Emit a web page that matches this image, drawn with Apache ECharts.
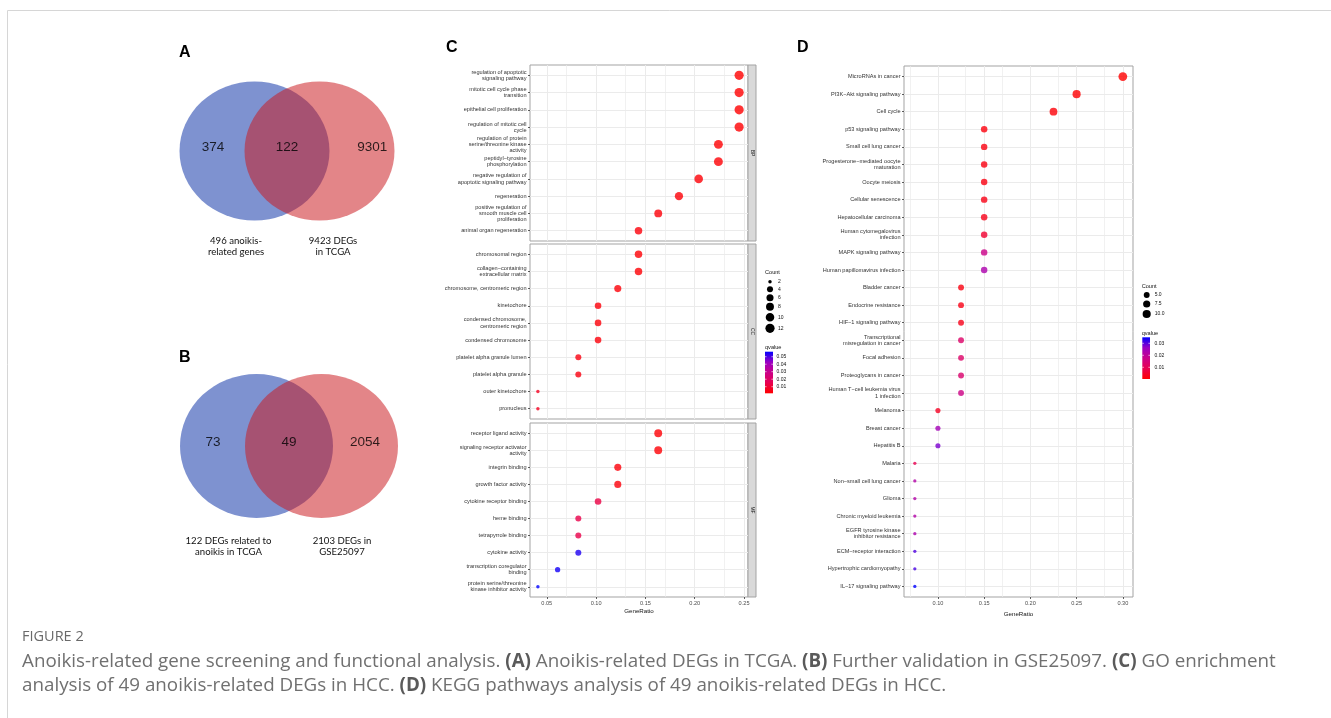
<!DOCTYPE html>
<html><head><meta charset="utf-8">
<script src="https://cdn.jsdelivr.net/npm/echarts@6/dist/echarts.min.js"></script>
<style>html,body{margin:0;padding:0;background:#fff}#c{width:1331px;height:718px}</style>
</head><body><div id="c"></div>
<script>
// ---------- DATA ----------
const vennA_counts = [374, 122, 9301];
const vennA_sets = ['496 anoikis-\nrelated genes', '9423 DEGs\nin TCGA'];
const vennB_counts = [73, 49, 2054];
const vennB_sets = ['122 DEGs related to\nanoikis in TCGA', '2103 DEGs in\nGSE25097'];

const bpTerms = ['regulation of apoptotic\nsignaling pathway','mitotic cell cycle phase\ntransition','epithelial cell proliferation','regulation of mitotic cell\ncycle','regulation of protein\nserine/threonine kinase\nactivity','peptidyl\u2212tyrosine\nphosphorylation','negative regulation of\napoptotic signaling pathway','regeneration','positive regulation of\nsmooth muscle cell\nproliferation','animal organ regeneration'];
const bpCount = [12,12,12,12,11,11,10,9,8,7];
const bpRatio = [0.245,0.245,0.245,0.245,0.224,0.224,0.204,0.184,0.163,0.143];
const bpQ = [0.0012,0.0013,0.0014,0.0015,0.0018,0.002,0.0022,0.0025,0.0028,0.003];

const ccTerms = ['chromosomal region','collagen\u2212containing\nextracellular matrix','chromosome, centromeric region','kinetochore','condensed chromosome,\ncentromeric region','condensed chromosome','platelet alpha granule lumen','platelet alpha granule','outer kinetochore','pronucleus'];
const ccCount = [7,7,6,5,5,5,4,4,2,2];
const ccRatio = [0.143,0.143,0.122,0.102,0.102,0.102,0.082,0.082,0.041,0.041];
const ccQ = [0.002,0.002,0.0025,0.003,0.003,0.003,0.004,0.004,0.007,0.007];

const mfTerms = ['receptor ligand activity','signaling receptor activator\nactivity','integrin binding','growth factor activity','cytokine receptor binding','heme binding','tetrapyrrole binding','cytokine activity','transcription coregulator\nbinding','protein serine/threonine\nkinase inhibitor activity'];
const mfCount = [8,8,6,6,5,4,4,4,3,2];
const mfRatio = [0.163,0.163,0.122,0.122,0.102,0.082,0.082,0.082,0.061,0.041];
const mfQ = [0.002,0.002,0.003,0.003,0.013,0.014,0.014,0.054,0.055,0.0567];

const keggTerms = ['MicroRNAs in cancer','PI3K\u2212Akt signaling pathway','Cell cycle','p53 signaling pathway','Small cell lung cancer','Progesterone\u2212mediated oocyte\nmaturation','Oocyte meiosis','Cellular senescence','Hepatocellular carcinoma','Human cytomegalovirus\ninfection','MAPK signaling pathway','Human papillomavirus infection','Bladder cancer','Endocrine resistance','HIF\u22121 signaling pathway','Transcriptional\nmisregulation in cancer','Focal adhesion','Proteoglycans in cancer','Human T\u2212cell leukemia virus\n1 infection','Melanoma','Breast cancer','Hepatitis B','Malaria','Non\u2212small cell lung cancer','Glioma','Chronic myeloid leukemia','EGFR tyrosine kinase\ninhibitor resistance','ECM\u2212receptor interaction','Hypertrophic cardiomyopathy','IL\u221217 signaling pathway'];
const keggCount = [12,10,9,6,6,6,6,6,6,6,6,6,5,5,5,5,5,5,5,4,4,4,3,3,3,3,3,3,3,3];
const keggRatio = [0.300,0.250,0.225,0.150,0.150,0.150,0.150,0.150,0.150,0.150,0.150,0.150,0.125,0.125,0.125,0.125,0.125,0.125,0.125,0.100,0.100,0.100,0.075,0.075,0.075,0.075,0.075,0.075,0.075,0.075];
const keggQ = [0.0003,0.0005,0.001,0.0015,0.002,0.002,0.002,0.0025,0.003,0.0055,0.0175,0.023,0.002,0.0025,0.003,0.0125,0.0125,0.013,0.017,0.004,0.0245,0.028,0.009,0.022,0.022,0.022,0.023,0.0305,0.031,0.035];

const cTicks = [0.05,0.10,0.15,0.20,0.25];
const cMinor = [0.075,0.125,0.175,0.225];
const dTicks = [0.10,0.15,0.20,0.25,0.30];
const dMinor = [0.075,0.125,0.175,0.225,0.275];
const cCountBreaks = [2,4,6,8,10,12];
const dCountBreaks = [5,7.5,10];
const cQBreaks = [0.05,0.04,0.03,0.02,0.01];
const dQBreaks = [0.03,0.02,0.01];
const cQRange = [0.0012,0.0567];
const dQRange = [0.00025,0.035];

// ---------- STYLE / LAYOUT ----------
const F = '"Liberation Sans", Arial, sans-serif';
const GRAD = ['#FF0000','#E80050','#CA0089','#9A00C3','#0000FF'];
const sizeC = c => 1.15 * (3 + 5 * Math.sqrt((c - 2) / 10));
const sizeD = c => 1.1 * (3 + 5 * Math.sqrt((c - 3) / 9));
const GRIDC = '#ebebeb';
const BORDER = '#a3a3a3';

const facets = [
  {terms: bpTerms, count: bpCount, ratio: bpRatio, q: bpQ, top: 65, h: 176, strip: 'BP'},
  {terms: ccTerms, count: ccCount, ratio: ccRatio, q: ccQ, top: 244, h: 175, strip: 'CC'},
  {terms: mfTerms, count: mfCount, ratio: mfRatio, q: mfQ, top: 423, h: 174, strip: 'MF'}
];

const grid = [
  {left: 157, top: 41, width: 260, height: 220, show: false},
  {left: 159, top: 336, width: 260, height: 220, show: false}
];
const xAxis = [], yAxis = [], series = [];
const hiddenAxis = {type: 'value', min: -1, max: 1, show: false};
xAxis.push(Object.assign({gridIndex: 0}, hiddenAxis), Object.assign({gridIndex: 1}, hiddenAxis));
yAxis.push(Object.assign({gridIndex: 0}, hiddenAxis), Object.assign({gridIndex: 1}, hiddenAxis));

function venn(gi, counts, sets, numX, lblOff, lblDist, size) {
  const blue = '#7e92d0', red = 'rgba(202,25,31,0.53)';
  const lab = {show: true, position: 'bottom', distance: lblDist, color: '#111', fontFamily: 'Lato, "Open Sans", sans-serif', fontSize: 9.6, lineHeight: 11, align: 'center'};
  series.push({
    type: 'scatter', xAxisIndex: gi, yAxisIndex: gi, silent: true, clip: false, z: 2,
    symbol: 'circle', symbolSize: size,
    data: [
      {value: [-0.25, 0], itemStyle: {color: blue, opacity: 1}, label: Object.assign({offset: [lblOff[0], 0], formatter: sets[0]}, lab)},
      {value: [0.25, 0], itemStyle: {color: red, opacity: 1}, label: Object.assign({offset: [lblOff[1], 0], formatter: sets[1]}, lab)}
    ]
  });
  series.push({
    type: 'scatter', xAxisIndex: gi, yAxisIndex: gi, silent: true, clip: false, z: 3,
    symbolSize: 0,
    data: counts.map((c, i) => ({value: [numX[i], 0.03], name: String(c)})),
    label: {show: true, position: 'inside', formatter: p => p.name, color: '#000', fontFamily: F, fontSize: 13.5}
  });
}
venn(0, vennA_counts, vennA_sets, [-0.57, 0, 0.655], [-18.5, 13.5], 15, [150, 139]);
venn(1, vennB_counts, vennB_sets, [-0.585, 0, 0.585], [-28, 20.5], 17, [153, 144]);

const dotSeriesC = [];
function addPanel(gi, terms, ratio, count, q, top, h, left, width, xr, ticks, minor, showX, sizeFn) {
  grid.push({left: left, top: top, width: width, height: h, show: true, borderColor: BORDER, borderWidth: 1, backgroundColor: '#fff'});
  const idx = terms.map((t, i) => i);
  xAxis.push({
    gridIndex: gi, type: 'value', min: xr[0], max: xr[1], position: 'bottom',
    axisLine: {show: false, onZero: false},
    axisTick: {show: showX, length: 2, customValues: ticks, lineStyle: {color: '#333', width: 0.8}},
    axisLabel: {show: showX, customValues: ticks, formatter: v => v.toFixed(2), fontSize: 5.6, color: '#4d4d4d', fontFamily: F, margin: 3},
    splitLine: {show: true, lineStyle: {color: GRIDC, width: 1}},
    name: showX ? 'GeneRatio' : '', nameLocation: 'middle', nameGap: 11,
    nameTextStyle: {fontSize: 6.2, color: '#111', fontFamily: F}
  });
  yAxis.push({
    gridIndex: gi, type: 'value', inverse: true, min: -0.6, max: terms.length - 1 + 0.6, position: 'left',
    axisLine: {show: false, onZero: false},
    axisTick: {show: true, length: 2, customValues: idx, lineStyle: {color: '#333', width: 0.8}},
    axisLabel: {show: true, customValues: idx, formatter: v => terms[Math.round(v)], fontSize: 5.6, lineHeight: 6.2, color: '#333', fontFamily: F, margin: 3.5},
    splitLine: {show: true, lineStyle: {color: GRIDC, width: 1}}
  });
  series.push({
    type: 'scatter', xAxisIndex: gi, yAxisIndex: gi, silent: true, data: [], z: 1,
    markLine: {silent: true, symbol: 'none', label: {show: false}, animation: false,
      lineStyle: {color: GRIDC, width: 0.7, type: 'solid'},
      data: minor.map(v => ({xAxis: v}))}
  });
  series.push({
    type: 'scatter', xAxisIndex: gi, yAxisIndex: gi, silent: true, z: 3,
    data: ratio.map((r, i) => [r, i, count[i], q[i]]),
    symbol: 'circle', symbolSize: v => sizeFn(v[2])
  });
  return series.length - 1;
}

facets.forEach((f, k) => {
  dotSeriesC.push(addPanel(2 + k, f.terms, f.ratio, f.count, f.q, f.top, f.h, 530, 218, [0.033, 0.254], cTicks, cMinor, k === 2, sizeC));
});
const dotD = addPanel(5, keggTerms, keggRatio, keggCount, keggQ, 66, 531, 904, 229, [0.0633, 0.311], dTicks, dMinor, true, sizeD);

// ---------- GRAPHIC (labels, strips, legends, caption) ----------
const g = [];
const txt = (x, y, text, o) => g.push({type: 'text', x: x, y: y, silent: true, style: Object.assign({text: text, fontFamily: F, fontSize: 5.6, fill: '#111', align: 'left', verticalAlign: 'middle'}, o || {})});
// frame
g.push({type: 'line', shape: {x1: 7.5, y1: 10.5, x2: 1331, y2: 10.5}, style: {stroke: '#d6d6d6', lineWidth: 1}, silent: true});
g.push({type: 'line', shape: {x1: 7.5, y1: 10.5, x2: 7.5, y2: 718}, style: {stroke: '#d6d6d6', lineWidth: 1}, silent: true});
// panel letters
[['A', 179, 53], ['B', 179, 357.5], ['C', 446, 48], ['D', 797, 48]].forEach(a => txt(a[1], a[2], a[0], {fontSize: 16, fontWeight: 'bold', fill: '#000'}));
// strips
facets.forEach(f => {
  g.push({type: 'rect', shape: {x: 748, y: f.top, width: 8, height: f.h}, style: {fill: '#d9d9d9', stroke: BORDER, lineWidth: 1}, silent: true});
  g.push({type: 'text', x: 752, y: f.top + f.h / 2, rotation: -Math.PI / 2, silent: true, style: {text: f.strip, fontFamily: F, fontSize: 5, fill: '#1a1a1a', align: 'center', verticalAlign: 'middle'}});
});
// legends
function legend(x0, countY, dotX, dotYs, breaks, labels, sizeFn, qTitleY, barX, barY, barW, barH, qRange, qBreaks, qLblX) {
  txt(x0, countY, 'Count');
  breaks.forEach((b, i) => {
    const s = sizeFn(b);
    g.push({type: 'circle', shape: {cx: dotX, cy: dotYs[i], r: s / 2}, style: {fill: '#000'}, silent: true});
    txt(dotX + 8, dotYs[i], labels[i], {fontSize: 5});
  });
  txt(x0, qTitleY, 'qvalue');
  g.push({type: 'rect', shape: {x: barX, y: barY, width: barW, height: barH}, silent: true,
    style: {fill: {type: 'linear', x: 0, y: 0, x2: 0, y2: 1, colorStops: GRAD.slice().reverse().map((c, i) => ({offset: i / (GRAD.length - 1), color: c}))}}});
  qBreaks.forEach(v => {
    const y = barY + barH - (v - qRange[0]) / (qRange[1] - qRange[0]) * barH;
    txt(qLblX, y, v.toFixed(2), {fontSize: 5});
    g.push({type: 'line', shape: {x1: barX, y1: y, x2: barX + 1.6, y2: y}, style: {stroke: '#fff', lineWidth: 0.6}, silent: true});
    g.push({type: 'line', shape: {x1: barX + barW - 1.6, y1: y, x2: barX + barW, y2: y}, style: {stroke: '#fff', lineWidth: 0.6}, silent: true});
  });
}
legend(765, 272.7, 770, [281.7, 289.3, 297.7, 306.7, 317.3, 328.3], cCountBreaks, cCountBreaks.map(String), sizeC, 347.3, 765, 351.7, 8, 41.6, cQRange, cQBreaks, 776.5);
legend(1141.7, 286, 1146.7, [295, 304, 314], dCountBreaks, dCountBreaks.map(v => v.toFixed(1)), sizeD, 333.3, 1142.3, 337.3, 7.7, 41.7, dQRange, dQBreaks, 1154.5);
// caption
const CF = '"Open Sans", Lato, sans-serif';
const CS = 18.8;
const rich = {b: {fontFamily: CF, fontSize: CS, fontWeight: 'bold', fill: '#5a5a5a'}};
txt(22, 637, 'FIGURE 2', {fontFamily: CF, fontSize: 14.5, fill: '#6a6a6a'});
txt(22, 662, 'Anoikis-related gene screening and functional analysis. {b|(A)} Anoikis-related DEGs in TCGA. {b|(B)} Further validation in GSE25097. {b|(C)} GO enrichment', {fontFamily: CF, fontSize: CS, fill: '#707070', rich: rich});
txt(22, 686, 'analysis of 49 anoikis-related DEGs in HCC. {b|(D)} KEGG pathways analysis of 49 anoikis-related DEGs in HCC.', {fontFamily: CF, fontSize: CS, fill: '#707070', rich: rich});

const option = {
  animation: false,
  backgroundColor: '#fff',
  grid: grid, xAxis: xAxis, yAxis: yAxis, series: series,
  visualMap: [
    {type: 'continuous', show: false, seriesIndex: dotSeriesC, dimension: 3, min: cQRange[0], max: cQRange[1], inRange: {color: GRAD}},
    {type: 'continuous', show: false, seriesIndex: [dotD], dimension: 3, min: dQRange[0], max: dQRange[1], inRange: {color: GRAD}}
  ],
  graphic: g
};
const chart = echarts.init(document.getElementById('c'));
chart.setOption(option);
</script>
</body></html>
